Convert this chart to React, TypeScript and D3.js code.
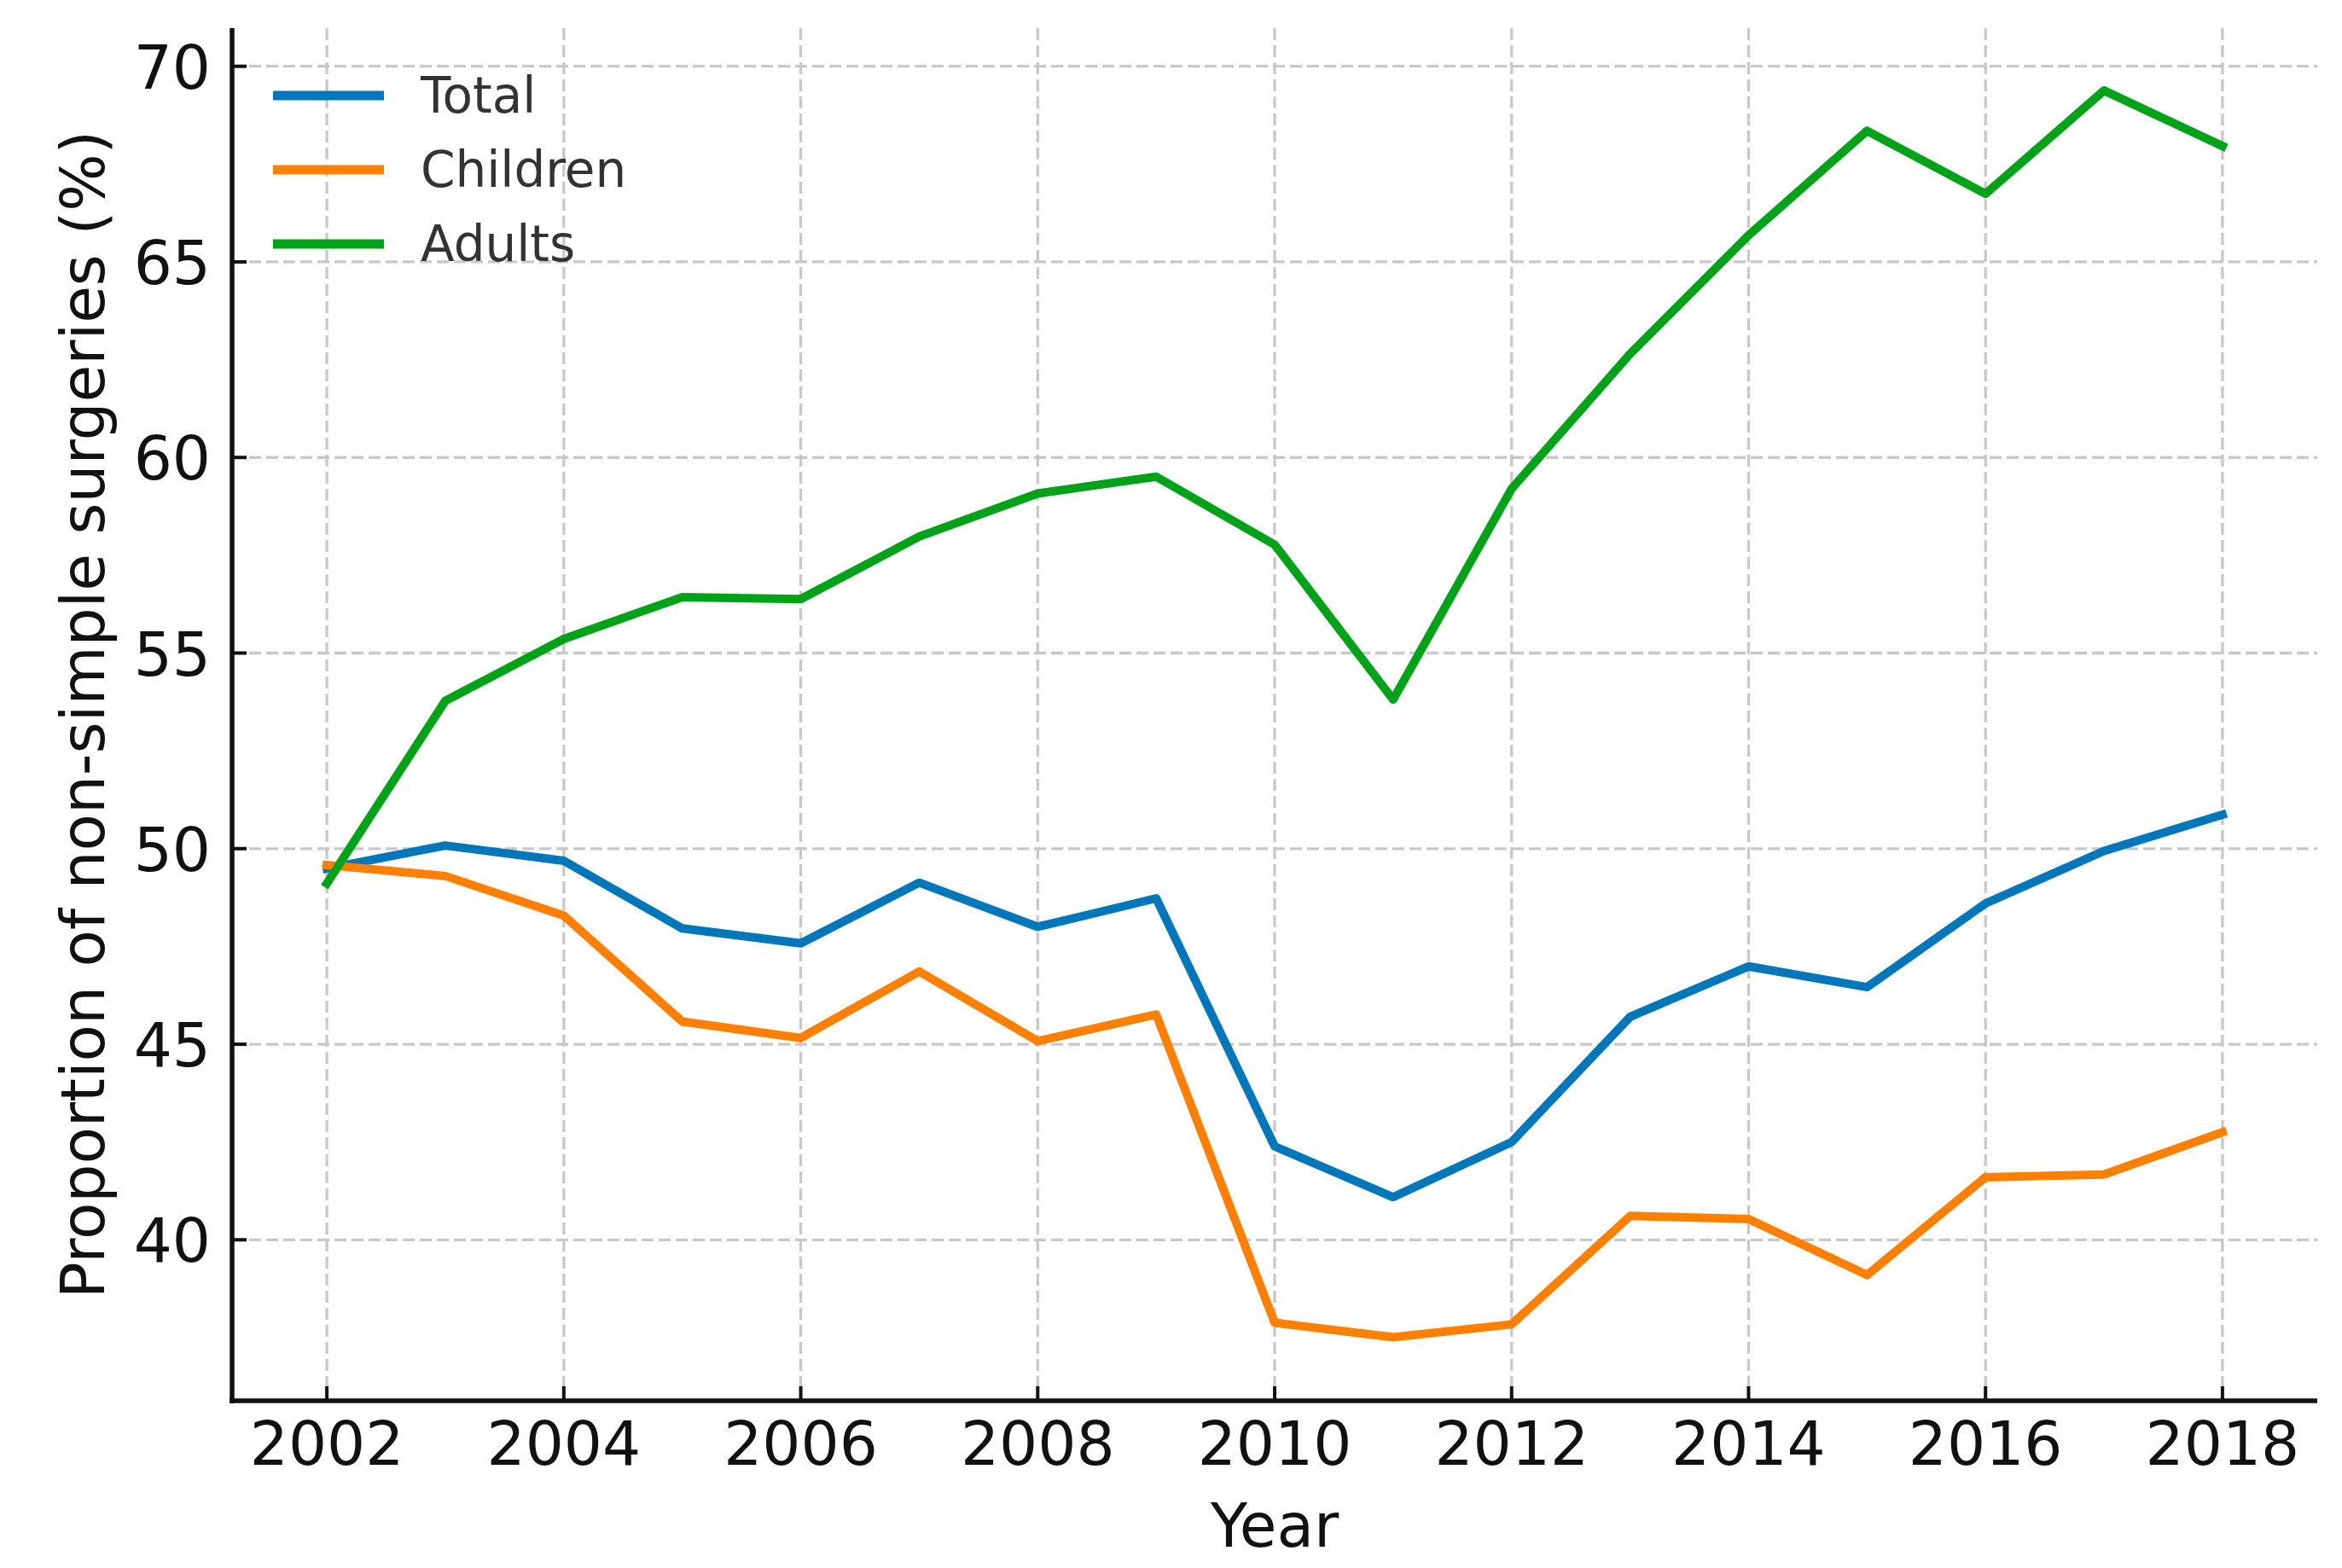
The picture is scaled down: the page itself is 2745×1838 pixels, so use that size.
import React from "react";
import * as d3 from "d3";

const years = [2002, 2003, 2004, 2005, 2006, 2007, 2008, 2009, 2010, 2011, 2012, 2013, 2014, 2015, 2016, 2017, 2018];
const total = [49.49, 50.08, 49.69, 47.96, 47.58, 49.13, 48.0, 48.73, 42.39, 41.09, 42.5, 45.7, 46.99, 46.46, 48.6, 49.94, 50.87];
const children = [49.58, 49.3, 48.29, 45.58, 45.16, 46.86, 45.08, 45.76, 37.88, 37.51, 37.84, 40.61, 40.53, 39.1, 41.6, 41.67, 42.75];
const adults = [49.11, 53.78, 55.36, 56.43, 56.38, 57.98, 59.08, 59.51, 57.77, 53.81, 59.2, 62.65, 65.68, 68.35, 66.74, 69.38, 67.96];
const seriesNames = ["Total", "Children", "Adults"];
const seriesColors = ["#0077bb", "#ff8000", "#00a318"];
const xTicks = [2002, 2004, 2006, 2008, 2010, 2012, 2014, 2016, 2018];
const yTicks = [40, 45, 50, 55, 60, 65, 70];
const xLabel = "Year";
const yLabel = "Proportion of non-simple surgeries (%)";

const W = 2745;
const H = 1838;
const left = 272;
const right = 2716;
const top = 33;
const bottom = 1642;
const font = "'DejaVu Sans', 'Liberation Sans', sans-serif";

export default function App() {
  const x = d3.scaleLinear().domain([2001.2, 2018.8]).range([left, right]);
  const y = d3.scaleLinear().domain([35.885, 70.975]).range([bottom, top]);
  const line = d3
    .line<number>()
    .x((_, i) => x(years[i]))
    .y((d) => y(d));
  const allSeries = [total, children, adults];

  return (
    <svg
      width={W}
      height={H}
      style={{ position: "absolute", left: 0, top: 0, background: "#fff" }}
      xmlns="http://www.w3.org/2000/svg"
    >
      <rect x={0} y={0} width={W} height={H} fill="#fff" />
      {/* grid */}
      <g stroke="#c8c8c8" strokeWidth={3.3} strokeDasharray="14,6" fill="none">
        {xTicks.map((t) => (
          <line key={"gx" + t} x1={x(t)} x2={x(t)} y1={top} y2={bottom} />
        ))}
        {yTicks.map((t) => (
          <line key={"gy" + t} x1={left} x2={right} y1={y(t)} y2={y(t)} />
        ))}
      </g>
      {/* data lines */}
      {allSeries.map((s, i) => (
        <path
          key={seriesNames[i]}
          d={line(s) || ""}
          fill="none"
          stroke={seriesColors[i]}
          strokeWidth={10}
          strokeLinejoin="round"
          strokeLinecap="square"
        />
      ))}
      {/* ticks */}
      <g stroke="#111" strokeWidth={4}>
        {xTicks.map((t) => (
          <line key={"tx" + t} x1={x(t)} x2={x(t)} y1={bottom} y2={bottom - 17} />
        ))}
        {yTicks.map((t) => (
          <line key={"ty" + t} x1={left} x2={left + 17} y1={y(t)} y2={y(t)} />
        ))}
      </g>
      {/* spines */}
      <line x1={left} x2={left} y1={top} y2={bottom + 3} stroke="#111" strokeWidth={5.5} />
      <line x1={left - 3} x2={right} y1={bottom} y2={bottom} stroke="#111" strokeWidth={5.5} />
      {/* tick labels */}
      <g fontFamily={font} fontSize={71} fill="#111">
        {xTicks.map((t) => (
          <text key={"lx" + t} x={x(t)} y={1717} textAnchor="middle">
            {t}
          </text>
        ))}
        {yTicks.map((t) => (
          <text key={"ly" + t} x={247} y={y(t) + 26} textAnchor="end">
            {t}
          </text>
        ))}
      </g>
      {/* axis labels */}
      <text x={(left + right) / 2} y={1813} textAnchor="middle" fontFamily={font} fontSize={71} fill="#111">
        {xLabel}
      </text>
      <text
        transform={`translate(122, ${(top + bottom) / 2}) rotate(-90)`}
        textAnchor="middle"
        fontFamily={font}
        fontSize={71}
        fill="#111"
      >
        {yLabel}
      </text>
      {/* legend */}
      {seriesNames.map((n, i) => {
        const ly = 112 + i * 87;
        return (
          <g key={"leg" + n}>
            <line x1={320} x2={450} y1={ly} y2={ly} stroke={seriesColors[i]} strokeWidth={11} />
            <text x={493} y={ly + 20} fontFamily={font} fontSize={58} fill="#333">
              {n}
            </text>
          </g>
        );
      })}
    </svg>
  );
}
